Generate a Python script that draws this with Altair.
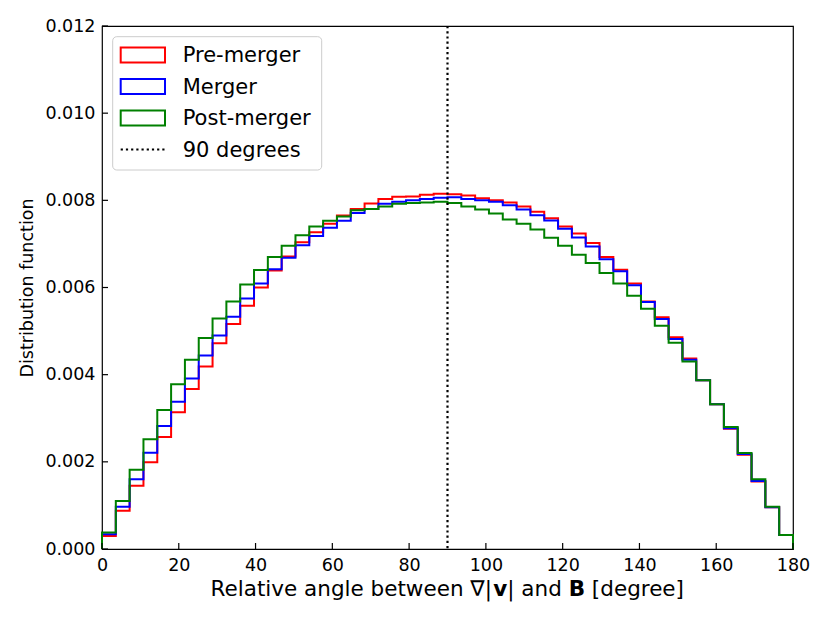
import altair as alt
import numpy as np
import pandas as pd

# ---------------- data ----------------
series_names = ["Pre-merger", "Merger", "Post-merger"]
series_colors = ["#ff0000", "#0000ff", "#008000"]

pre_merger = [0.00030, 0.00088, 0.00145, 0.00199, 0.00257, 0.00314, 0.00367, 0.00419, 0.00472, 0.00516,
              0.00558, 0.00600, 0.00639, 0.00671, 0.00704, 0.00727, 0.00746, 0.00765, 0.00780, 0.00793,
              0.00803, 0.00808, 0.00809, 0.00813, 0.00815, 0.00814, 0.00811, 0.00805, 0.00800, 0.00795,
              0.00786, 0.00774, 0.00759, 0.00740, 0.00724, 0.00702, 0.00670, 0.00641, 0.00609, 0.00568,
              0.00532, 0.00486, 0.00437, 0.00387, 0.00332, 0.00276, 0.00216, 0.00155, 0.00096, 0.00032]
merger = [0.00034, 0.00097, 0.00160, 0.00221, 0.00282, 0.00338, 0.00391, 0.00444, 0.00490, 0.00533,
          0.00575, 0.00609, 0.00642, 0.00668, 0.00697, 0.00718, 0.00737, 0.00753, 0.00771, 0.00780,
          0.00792, 0.00797, 0.00800, 0.00803, 0.00806, 0.00807, 0.00803, 0.00800, 0.00797, 0.00789,
          0.00779, 0.00766, 0.00754, 0.00735, 0.00715, 0.00694, 0.00665, 0.00637, 0.00605, 0.00567,
          0.00528, 0.00482, 0.00434, 0.00387, 0.00332, 0.00277, 0.00218, 0.00156, 0.00096, 0.00032]
post_merger = [0.00038, 0.00110, 0.00182, 0.00252, 0.00319, 0.00378, 0.00434, 0.00484, 0.00529, 0.00568,
               0.00607, 0.00640, 0.00670, 0.00696, 0.00720, 0.00740, 0.00753, 0.00763, 0.00777, 0.00780,
               0.00786, 0.00792, 0.00794, 0.00795, 0.00797, 0.00794, 0.00786, 0.00779, 0.00770, 0.00756,
               0.00746, 0.00733, 0.00714, 0.00696, 0.00675, 0.00656, 0.00633, 0.00609, 0.00581, 0.00551,
               0.00512, 0.00473, 0.00430, 0.00387, 0.00332, 0.00280, 0.00220, 0.00160, 0.00097, 0.00032]

bin_lo, bin_hi, n_bins = 0, 180, 50
vline_value = [90]
vline_label = "90 degrees"
x_ticks = [0, 20, 40, 60, 80, 100, 120, 140, 160, 180]
y_ticks = [0.000, 0.002, 0.004, 0.006, 0.008, 0.010, 0.012]
x_title_parts = ["Relative angle between \u2207|", "v", "| and ", "B", " [degree]"]
x_title_bold = [False, True, False, True, False]
y_title = "Distribution function"

# ---------------- layout ----------------
W, H = 691, 523
FONT = "DejaVu Sans"

edges = np.linspace(bin_lo, bin_hi, n_bins + 1)


def step_frame(vals, name):
    xs = [edges[0]] + list(edges[:-1]) + [edges[-1], edges[-1]]
    ys = [0.0] + list(vals) + [vals[-1], 0.0]
    return pd.DataFrame({"x": xs, "y": ys, "o": range(len(xs)), "series": name})


xscale = alt.Scale(domain=[bin_lo, bin_hi], nice=False, zero=False)
yscale = alt.Scale(domain=[0, 0.012], nice=False)

layers = []
all_vals = [pre_merger, merger, post_merger]
for i, (vals, name, col) in enumerate(zip(all_vals, series_names, series_colors)):
    df = step_frame(vals, name)
    base_enc = dict(
        x=alt.X("x:Q", scale=xscale,
                axis=alt.Axis(values=x_ticks, format="d", title=None, labelFlush=False,
                              labelOverlap=False, labelPadding=7)) if i == 0 else alt.X("x:Q", scale=xscale),
        y=alt.Y("y:Q", scale=yscale,
                axis=alt.Axis(values=y_ticks, format=".3f", title=y_title, labelFlush=False,
                              labelOverlap=False, labelPadding=7, titlePadding=8,
                              titleFontSize=17.5, titleFontWeight="normal")) if i == 0 else alt.Y("y:Q", scale=yscale),
        order=alt.Order("o:Q"),
    )
    layers.append(
        alt.Chart(df).mark_line(interpolate="step-after", color=col, strokeWidth=2).encode(**base_enc)
    )

# vertical dotted line at 90 degrees
vdf = pd.DataFrame({"v": vline_value})
layers.append(
    alt.Chart(vdf).mark_rule(color="black", strokeWidth=2.2, strokeDash=[2.2, 3]).encode(
        x=alt.X("v:Q", scale=xscale)
    )
)

# inward ticks
xt = pd.DataFrame({"t": x_ticks})
layers.append(
    alt.Chart(xt).mark_rule(color="black", strokeWidth=1.2).encode(
        x=alt.X("t:Q", scale=xscale), y=alt.value(H), y2=alt.value(H - 6)
    )
)
yt = pd.DataFrame({"t": y_ticks})
layers.append(
    alt.Chart(yt).mark_rule(color="black", strokeWidth=1.2).encode(
        y=alt.Y("t:Q", scale=yscale), x=alt.value(0), x2=alt.value(6)
    )
)

# ---------------- legend (hand-built) ----------------
one = pd.DataFrame({"k": [0]})
LX0, LX1, LY0, LY1 = 10.7, 219.7, 10.7, 144
layers.append(
    alt.Chart(one).mark_rect(fill="white", fillOpacity=0.8, stroke="#cccccc", strokeWidth=1,
                             cornerRadius=4).encode(
        x=alt.value(LX0), x2=alt.value(LX1), y=alt.value(LY0), y2=alt.value(LY1)
    )
)
leg_names = series_names + [vline_label]
leg = pd.DataFrame({"name": leg_names, "idx": range(len(leg_names))})
row0, row_step = 29.0, 31.5
leg = leg.assign(yc=row0 + leg["idx"] * row_step)
leg = leg.assign(yt=leg["yc"] - 7.5, yb=leg["yc"] + 7.5)
patch_df = leg.iloc[:3].assign(color=series_colors)
layers.append(
    alt.Chart(patch_df).mark_rect(fill=None, strokeWidth=2).encode(
        x=alt.value(18.7), x2=alt.value(63),
        y=alt.Y("yt:Q", scale=None), y2=alt.Y2("yb:Q"),
        stroke=alt.Stroke("color:N", scale=None),
    )
)
layers.append(
    alt.Chart(leg.iloc[3:]).mark_rule(color="black", strokeWidth=2.2, strokeDash=[2.2, 3]).encode(
        x=alt.value(18.7), x2=alt.value(63), y=alt.Y("yc:Q", scale=None)
    )
)
layers.append(
    alt.Chart(leg).mark_text(align="left", baseline="middle", font=FONT, fontSize=21,
                             color="black", dy=1).encode(
        x=alt.value(80.7), y=alt.Y("yc:Q", scale=None), text="name:N"
    )
)

# ---------------- x-axis title with bold parts ----------------
reg_w = {"R": 1423, "e": 1260, "l": 569, "a": 1255, "t": 803, "i": 569, "v": 1212, " ": 651,
         "n": 1298, "g": 1300, "b": 1300, "w": 1675, "d": 1300, "r": 842, "[": 799, "]": 799,
         "|": 690, "\u2207": 1401}
bold_w = {"v": 1333, "B": 1561}
TFS = 21.5


def seg_width(s, bold):
    tbl = bold_w if bold else reg_w
    return sum(tbl.get(c, 1300) for c in s) / 2048 * TFS


widths = [seg_width(s, b) for s, b in zip(x_title_parts, x_title_bold)]
xpos = W / 2 - sum(widths) / 2
for s, b, w in zip(x_title_parts, x_title_bold, widths):
    lead = len(s) - len(s.lstrip(" "))
    shift = lead * reg_w[" "] / 2048 * TFS
    layers.append(
        alt.Chart(one).mark_text(align="left", baseline="alphabetic", font=FONT, fontSize=TFS,
                                 fontWeight="bold" if b else "normal", color="black").encode(
            x=alt.value(xpos + shift), y=alt.value(H + 47), text=alt.value(s.strip(" "))
        )
    )
    xpos += w

chart = alt.layer(*layers).properties(
    width=W, height=H,
    autosize=alt.AutoSizeParams(type="none"),
    padding={"left": 94, "top": 18, "right": 29, "bottom": 70},
).configure_view(
    stroke="black", strokeWidth=1.2
).configure_axis(
    domain=False, ticks=False, grid=False,
    labelFont=FONT, labelFontSize=17.5, labelColor="black",
    titleFont=FONT, titleColor="black",
)

chart.save("out.html", embed_options={"renderer": "svg", "actions": False})
